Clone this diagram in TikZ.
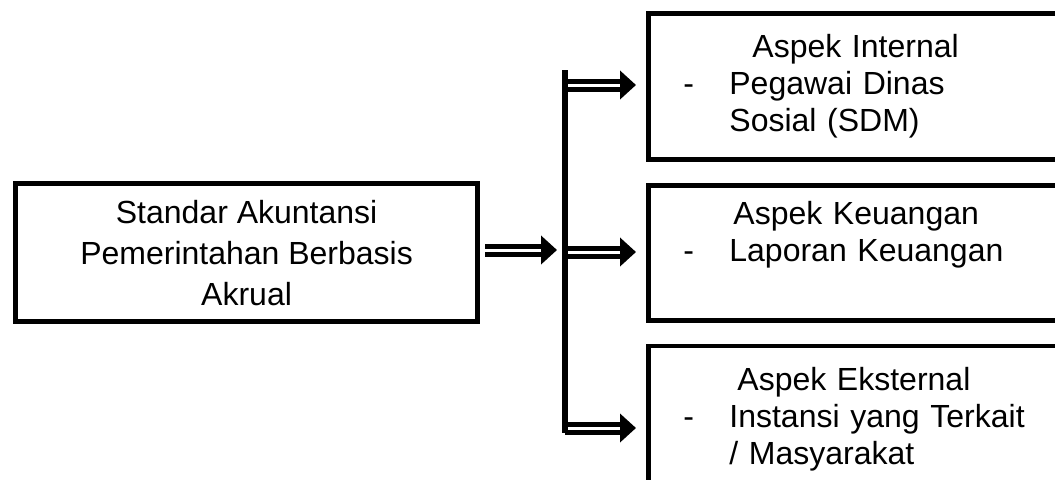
\documentclass[tikz,border=0pt]{standalone}
\usepackage{fontspec}
\setmainfont{Liberation Sans}
\usepackage{tikz}
\usetikzlibrary{arrows.meta, positioning}

\newcommand{\butir}{\makebox[40.5pt][l]{\hspace*{17.5pt}-}}
\newcommand{\lanjut}{\hspace*{40.5pt}}

\begin{document}
\begin{tikzpicture}[
  x=0.5pt, y=-0.5pt,
  every node/.style={font=\fontsize{16pt}{18.5pt}\selectfont},
  sapba/.style={
    rectangle, draw=black, line width=2.4pt,
    minimum width=231pt, minimum height=69pt,
    align=center, inner sep=0pt,
    font=\fontsize{16pt}{20.5pt}\selectfont,
  },
  aspek/.style={
    rectangle, draw=black, line width=2.4pt,
    minimum width=226pt, text width=226pt,
    inner xsep=0pt, inner ysep=0pt,
    align=left,
  },
  dblarrow/.style={
    line width=2.5pt, double=white, double distance=1.5pt,
    -{Triangle[length=8pt, width=14pt]},
  },
  bar/.style={line width=2.6pt},
]
\useasboundingbox (0,0) rectangle (1055,479);
\clip (0,0) rectangle (1055,479);

% Right column — the three aspects
\node[aspek, minimum height=73pt, anchor=north west] at (646,11) (internal)
  {\hspace*{52pt}Aspek Internal\\
   \butir Pegawai Dinas\\
   \lanjut Sosial (SDM)};
\node[aspek, minimum height=67.5pt, text depth=40pt, below=10.5pt of internal]
  (keuangan)
  {\hspace*{42.5pt}Aspek Keuangan\\
   \butir Laporan Keuangan};
\node[aspek, minimum height=73pt, below=10.5pt of keuangan] (eksternal)
  {\hspace*{44.5pt}Aspek Eksternal\\
   \butir Instansi yang Terkait\\
   \lanjut / Masyarakat};

% Left — the standard
\node[sapba, left=83pt of keuangan] (sap)
  {Standar Akuntansi\\Pemerintahan Berbasis\\Akrual};

% Branch points on the bar
\coordinate (bartop) at (565,70);
\coordinate (barbot) at (565,433);
\coordinate (barmid) at (565,250);
\coordinate (br1) at (565,85);
\coordinate (br2) at (565,252);
\coordinate (br3) at (565,428);

% Arrows
\draw[dblarrow, shorten <=2.5pt, shorten >=4pt] (sap.east |- barmid) -- (barmid);
\draw[dblarrow, shorten >=5pt] (br1) -- (br1 -| internal.west);
\draw[dblarrow, shorten >=5pt] (br2) -- (br2 -| keuangan.west);
\draw[dblarrow, shorten >=5pt] (br3) -- (br3 -| eksternal.west);

% Bar
\draw[bar] (bartop) -- (barbot);

\end{tikzpicture}
\end{document}
